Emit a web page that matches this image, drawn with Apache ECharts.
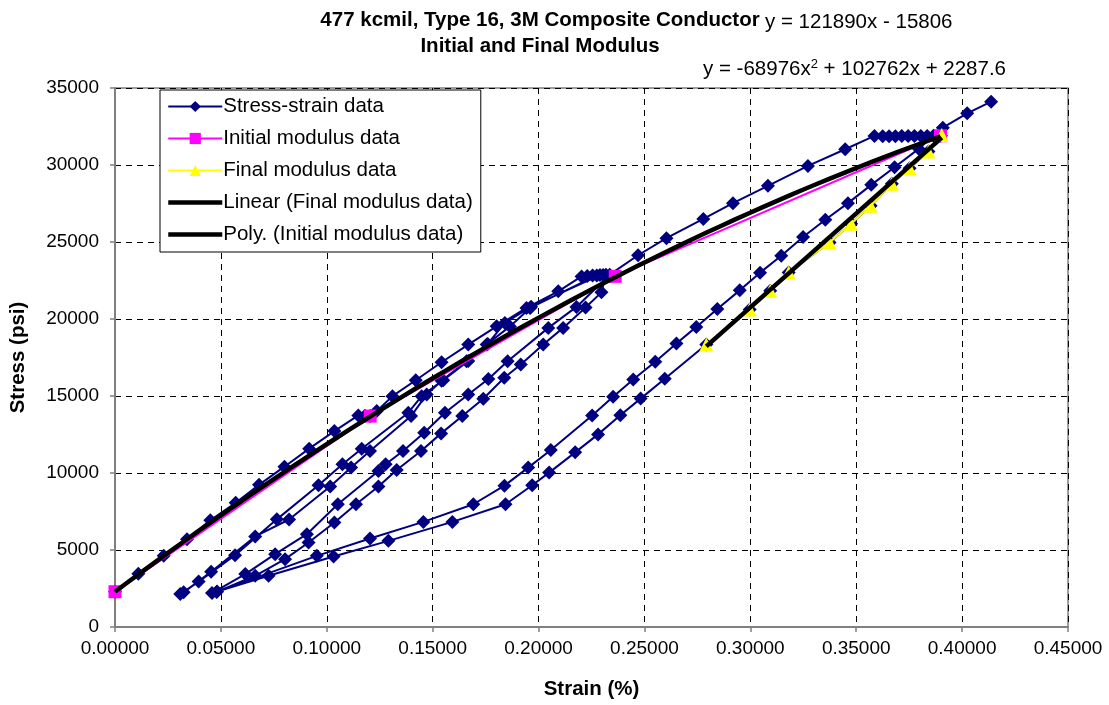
<!DOCTYPE html>
<html><head><meta charset="utf-8">
<script src="https://cdn.jsdelivr.net/npm/echarts/dist/echarts.min.js"></script>
<style>html,body{margin:0;padding:0;background:#fff}#c{width:1109px;height:705px}</style>
</head><body><div id="c"></div>
<script>
// ---- data (strain %, stress psi) ----
const stressStrain = [
  [0,2290],[0.011,3450],[0.023,4620],[0.034,5700],[0.045,6930],[0.057,8070],[0.068,9230],[0.080,10410],
  [0.0917,11580],[0.1036,12720],[0.1149,13740],[0.1180,13720],[0.1205,13700],[0.1236,14018],[0.1310,14990],
  [0.1420,16020],[0.1542,17194],[0.1668,18341],[0.1802,19527],[0.1943,20720],[0.2093,21795],[0.2203,22767],
  [0.2230,22800],[0.2255,22820],[0.2275,22830],
  [0.1960,20720],[0.1865,19520],[0.1755,18341],[0.1660,17258],[0.1542,15990],[0.1472,15100],[0.1398,13695],
  [0.1204,11426],[0.1115,10350],[0.1016,9118],[0.0822,6980],[0.0662,5878],[0.0454,3585],[0.0324,2250],[0.0308,2139],
  [0.0395,2950],[0.0567,4666],[0.0764,6990],[0.0961,9203],[0.1074,10564],[0.1165,11580],[0.1385,13915],[0.1448,14990],
  [0.1550,16030],[0.1668,17280],[0.1760,18380],[0.1841,19747],[0.1965,20800],[0.2290,22850],[0.2305,22860],[0.2318,22870],
  [0.2297,21730],[0.2222,20750],[0.2116,19423],[0.2022,18341],[0.1916,17045],[0.1838,16183],[0.1739,14822],[0.1640,13695],
  [0.1540,12573],[0.1445,11426],[0.1330,10195],[0.1244,9118],[0.1138,7971],[0.1036,6786],[0.0914,5490],[0.0803,4407],
  [0.0662,3326],[0.0480,2280],[0.0458,2200],
  [0.0615,3435],[0.0756,4731],[0.0906,6027],[0.1052,7971],[0.1244,10130],[0.1278,10564],[0.1360,11426],[0.1460,12618],
  [0.1558,13915],[0.1668,15100],[0.1763,16100],[0.1854,17258],[0.2046,19423],[0.2179,20784],[0.2336,22877],
  [0.2470,24140],[0.2604,25250],[0.2778,26500],[0.2918,27524],[0.3083,28645],[0.3272,29942],[0.3448,31024],[0.3586,31886],
  [0.3625,31870],[0.3655,31870],[0.3685,31875],[0.3715,31880],[0.3745,31880],[0.3775,31885],[0.3805,31890],[0.3835,31890],
  [0.3865,31895],[0.3900,31900],
  [0.3841,30870],[0.3752,29790],[0.3668,28775],[0.3568,27350],[0.3476,26183],[0.3374,24970],[0.3181,23027],[0.3094,21840],
  [0.2997,20610],[0.2792,18341],[0.2596,16118],[0.2482,14830],[0.2386,13750],[0.2281,12508],[0.2173,11340],[0.2050,10026],
  [0.1970,9203],[0.1844,7971],[0.1593,6824],[0.1291,5593],[0.1032,4580],[0.0725,3326],[0.0482,2300],
  [0.0953,4620],[0.1204,5748],[0.1456,6824],[0.1692,7971],[0.1839,9180],[0.1951,10350],[0.2058,11490],[0.2253,13740],
  [0.2352,14950],[0.2447,16070],[0.2551,17230],[0.2651,18405],[0.2745,19488],[0.2844,20655],[0.2950,21860],[0.3046,23010],
  [0.3146,24105],[0.3249,25320],[0.3354,26442],[0.3461,27524],[0.3571,28710],[0.3681,29857],[0.3795,31050],[0.3909,32420],
  [0.4024,33357],[0.4137,34110]
];
const initialModulus = [[0,2290],[0.1205,13695],[0.2362,22770],[0.3898,31900]];
const finalModulus = [[0.2792,18341],[0.2997,20610],[0.3094,21840],[0.3181,23027],[0.3374,24970],[0.3476,26183],
  [0.3568,27350],[0.3668,28775],[0.3752,29790],[0.3841,30870],[0.3904,31950]];
const linearFit = {slope:121890, intercept:-15806};      // Linear (Final modulus data)
const polyFit = {a:-68976, b:102762, c:2287.6};           // Poly. (Initial modulus data)
const titleLines = ['477 kcmil, Type 16, 3M Composite Conductor','Initial and Final Modulus'];
const eqLinear = 'y = 121890x - 15806';
const eqPoly = ['y = -68976x','2',' + 102762x + 2287.6'];
const xTicks = {min:0,max:0.45,step:0.05};
const yTicks = {min:0,max:35000,step:5000};

// trendline curves evaluated from the fitted equations over the data range
function linPts(){const x0=finalModulus[0][0], x1=finalModulus[finalModulus.length-1][0];
  return [[x0,linearFit.slope*x0+linearFit.intercept],[x1,linearFit.slope*x1+linearFit.intercept]];}
function polyPts(){const x0=initialModulus[0][0], x1=initialModulus[initialModulus.length-1][0], out=[];
  for(let i=0;i<=60;i++){const x=x0+(x1-x0)*i/60; out.push([x,polyFit.a*x*x+polyFit.b*x+polyFit.c]);} return out;}

const FONT='"Liberation Sans", Arial, sans-serif';
const FS=20.5;
const chart = echarts.init(document.getElementById('c'), null, {renderer:'canvas'});
chart.setOption({
  animation:false,
  backgroundColor:'#fff',
  textStyle:{fontFamily:FONT},
  grid:{left:113,right:41,top:88,bottom:77,show:true,borderColor:'#808080',borderWidth:1.5,backgroundColor:'transparent'},
  xAxis:{type:'value',min:xTicks.min,max:xTicks.max,interval:xTicks.step,
    name:'Strain (%)',nameLocation:'middle',nameGap:52,
    nameTextStyle:{fontFamily:FONT,fontSize:FS,fontWeight:'bold',color:'#000'},
    axisLine:{show:true,lineStyle:{color:'#808080',width:2}},
    axisTick:{show:true,inside:false,length:5,lineStyle:{color:'#808080',width:1.5}},
    axisLabel:{fontFamily:FONT,fontSize:19,color:'#000',margin:12,showMinLabel:true,showMaxLabel:true,
      formatter:v=>v.toFixed(5)},
    splitLine:{show:true,lineStyle:{color:'#000',type:[6,5],width:1}}},
  yAxis:{type:'value',min:yTicks.min,max:yTicks.max,interval:yTicks.step,
    name:'Stress (psi)',nameLocation:'middle',nameGap:86,nameRotate:90,
    nameTextStyle:{fontFamily:FONT,fontSize:FS,fontWeight:'bold',color:'#000'},
    axisLine:{show:true,lineStyle:{color:'#808080',width:2}},
    axisTick:{show:true,inside:false,length:5,lineStyle:{color:'#808080',width:1.5}},
    axisLabel:{fontFamily:FONT,fontSize:19,color:'#000',margin:16,showMinLabel:true,showMaxLabel:true,
      formatter:v=>String(v)},
    splitLine:{show:true,lineStyle:{color:'#000',type:[6,5],width:1}}},
  legend:{orient:'vertical',left:160,top:90,padding:[6,8,7,6],itemGap:11,itemWidth:54,itemHeight:14,
    backgroundColor:'#fff',borderColor:'#000',borderWidth:1,
    textStyle:{fontFamily:FONT,fontSize:FS,color:'#000',padding:[0,0,0,-4]},
    data:['Stress-strain data','Initial modulus data','Final modulus data',
      {name:'Linear (Final modulus data)',itemStyle:{opacity:0},lineStyle:{width:4.5,color:'#000'}},
      {name:'Poly. (Initial modulus data)',itemStyle:{opacity:0},lineStyle:{width:4.5,color:'#000'}}]},
  graphic:[
    {type:'text',x:540,y:10,style:{text:titleLines[0],fontFamily:FONT,fontSize:FS,fontWeight:'bold',fill:'#000',textAlign:'center'}},
    {type:'text',x:540,y:36,style:{text:titleLines[1],fontFamily:FONT,fontSize:FS,fontWeight:'bold',fill:'#000',textAlign:'center'}},
    {type:'text',x:765,y:12,style:{text:eqLinear,fontFamily:FONT,fontSize:FS,fill:'#000'}},
    {type:'text',x:703,y:58,style:{text:eqPoly[0]+'{sup|'+eqPoly[1]+'}'+eqPoly[2],fontFamily:FONT,fontSize:FS,fill:'#000',
      rich:{sup:{fontSize:13,fontFamily:FONT,fill:'#000',verticalAlign:'top',lineHeight:22}}}}
  ],
  series:[
    {name:'Stress-strain data',type:'line',data:stressStrain,symbol:'diamond',symbolSize:14,
      itemStyle:{color:'#000080'},lineStyle:{color:'#000080',width:2},z:2},
    {name:'Initial modulus data',type:'line',data:initialModulus,symbol:'rect',symbolSize:13,
      itemStyle:{color:'#FF00FF'},lineStyle:{color:'#FF00FF',width:2},z:3},
    {name:'Final modulus data',type:'line',data:finalModulus,symbol:'triangle',symbolSize:14,
      itemStyle:{color:'#FFFF00'},lineStyle:{color:'#FFFF00',width:2},z:4},
    {name:'Linear (Final modulus data)',type:'line',data:linPts(),symbol:'none',
      lineStyle:{color:'#000',width:4.5},itemStyle:{color:'#000'},z:5},
    {name:'Poly. (Initial modulus data)',type:'line',data:polyPts(),symbol:'none',smooth:false,
      lineStyle:{color:'#000',width:4.5},itemStyle:{color:'#000'},z:5}
  ]
});
</script></body></html>
